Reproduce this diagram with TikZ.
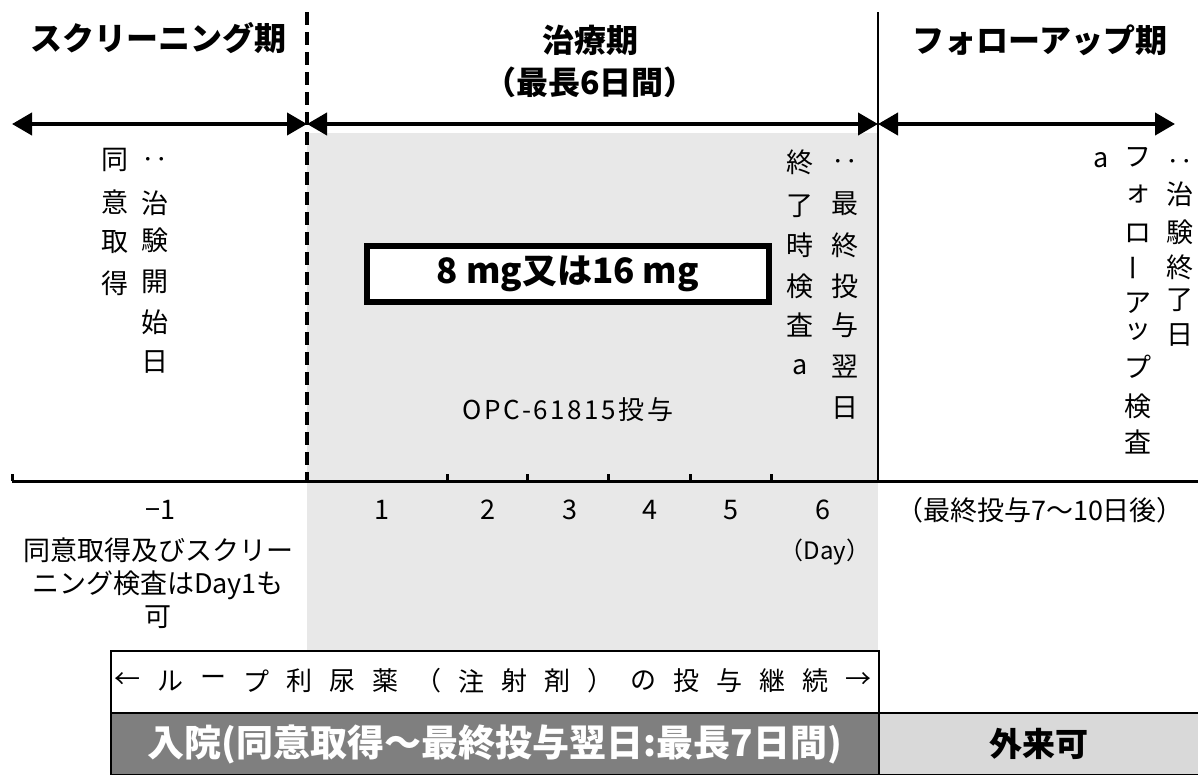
\documentclass[tikz,border=0pt]{standalone}
\usepackage{fontspec}
\setmainfont{Noto Sans CJK JP}
\usetikzlibrary{arrows.meta}
\definecolor{shadefill}{HTML}{E8E8E8}
\definecolor{darkfill}{HTML}{7F7F7F}
\definecolor{lightfill}{HTML}{D9D9D9}
\newcommand{\fsz}[1]{\fontsize{#1}{#1}\selectfont}
\begin{document}
\begin{tikzpicture}[x=1pt,y=-1pt,
  vch/.style={inner sep=0pt, font=\fsz{27}},
  header/.style={inner sep=0pt, font=\bfseries\fsz{32}},
  daynum/.style={inner sep=0pt, font=\fsz{27}},
  bigarrow/.style={line width=4pt, {Triangle[length=20pt,width=22pt]}-{Triangle[length=20pt,width=22pt]}},
  tick/.style={line width=3pt},
  loopch/.style={inner sep=0pt, font=\fsz{26}}]
\useasboundingbox (0,0) rectangle (1198,774);
% shaded treatment area
\fill[shadefill] (307,133) rectangle (878,650);
% headers
\node[header] (hscr) at (158,38) {スクリーニング期};
\node[header] (htrt) at (590,40) {治療期};
\node[header] (htrt2) at (590,82) {（最長6日間）};
\node[header] (hfol) at (1040,40) {フォローアップ期};
% arrows
\coordinate (a0) at (12,124);
\coordinate (a1) at (307,124);
\coordinate (a2) at (878,124);
\coordinate (a3) at (1175,124);
\draw[bigarrow] (a0) -- (a1);
\draw[bigarrow] (a1) -- (a2);
\draw[bigarrow] (a2) -- (a3);
% vertical lines
\coordinate (dtop) at (307,12);
\coordinate (dbot) at (307,481);
\draw[line width=4pt, dash pattern=on 13pt off 7pt] (dtop) -- (dbot);
\coordinate (stop) at (878,12);
\coordinate (sbot) at (878,481);
\draw[line width=2pt] (stop) -- (sbot);
% axis
\coordinate (ax0) at (12,481);
\coordinate (ax1) at (1198,481);
\draw[line width=3pt] (ax0) -- (ax1);
\foreach \x [count=\i] in {12,447,527,608,690,771} {
  \coordinate (tk\i) at (\x,481);
  \coordinate (tt\i) at (\x,474);
  \draw[tick] (tk\i) -- (tt\i);
}
% vertical texts
\foreach \c/\y [count=\i] in {同/160,意/202,取/242,得/283}
  \node[vch] (ca\i) at (115,\y) {\c};
\foreach \c/\y [count=\i] in {‥/163,治/203,験/240,開/282,始/322,日/362}
  \node[vch] (cb\i) at (155,\y) {\c};
\foreach \c/\y [count=\i] in {終/162,了/206,時/245,検/286,査/325,a/367}
  \node[vch] (cc\i) at (800,\y) {\c};
\foreach \c/\y [count=\i] in {‥/165,最/204,終/245,投/286,与/325,翌/367,日/408}
  \node[vch] (cd\i) at (845,\y) {\c};
\node[vch] (ce1) at (1101,160) {a};
\foreach \c/\y [count=\i] in {フ/157,ォ/194,ロ/233,ア/303,ッ/332,プ/367,検/406,査/442}
  \node[vch] (cf\i) at (1138,\y) {\c};
\node[vch, rotate=90] (cfbar) at (1138,268) {ー};
\foreach \c/\y [count=\i] in {‥/165,治/194,験/232,終/267,了/300,日/335}
  \node[vch] (cg\i) at (1180,\y) {\c};
% dose box
\node[draw, line width=6pt, fill=white, minimum width=402pt, minimum height=56pt,
      inner sep=0pt, font=\bfseries\fsz{35}] (dose) at (568,274) {8 mg又は16 mg};
\node[inner sep=0pt, font=\fsz{26}\addfontfeature{LetterSpace=10}] (opc) at (568,410) {OPC-61815投与};
% day numbers
\node[daynum] (dm1) at (160,510) {−1};
\foreach \x [count=\i] in {382,488,570,650,731,823}
  \node[daynum] (d\i) at (\x,510) {\i};
\node[inner sep=0pt, font=\fsz{24}] (dayl) at (825,552) {（Day）};
\node[inner sep=0pt, font=\fontsize{27}{33}\selectfont, align=center] (note) at (158,583)
  {同意取得及びスクリー\\ニング検査はDay1も\\可};
\node[inner sep=0pt, font=\fsz{27}] (fu) at (1040,510) {（最終投与7〜10日後）};
% bottom boxes
\node[draw, line width=2pt, fill=white, minimum width=768pt, minimum height=62pt,
      anchor=north west, inner sep=0pt] (loop) at (110,650) {};
\foreach \c [count=\i] in {←,ル,ー,プ,利,尿,薬,（,注,射,剤,）,の,投,与,継,続,→}
  \node[loopch] (lc\i) at ({127+43*(\i-1)},681) {\c};
\node[draw, line width=2pt, fill=darkfill, minimum width=768pt, minimum height=62pt,
      anchor=north west, inner sep=0pt, text=white, font=\bfseries\fsz{37}] (hosp) at (110,712)
  {入院(同意取得〜最終投与翌日:最長7日間)};
\node[draw, line width=2pt, fill=lightfill, minimum width=320pt, minimum height=62pt,
      anchor=north west, inner sep=0pt, font=\bfseries\fsz{33}] (outp) at (878,712) {外来可};
\end{tikzpicture}
\end{document}
